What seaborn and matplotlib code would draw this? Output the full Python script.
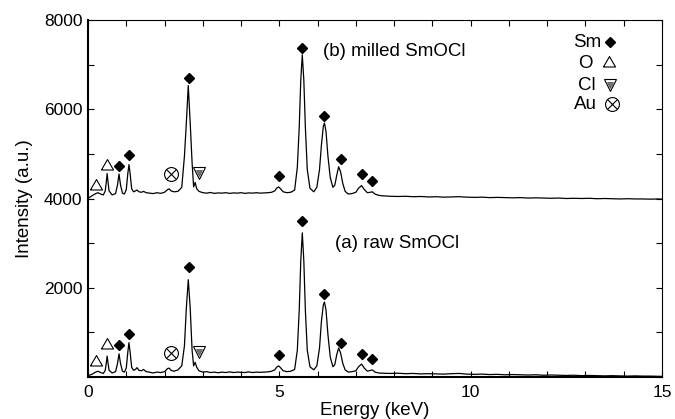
import numpy as np
import pandas as pd
import seaborn as sns
import matplotlib.pyplot as plt
from matplotlib.ticker import FixedLocator, MultipleLocator

# EDX spectra (energy in keV, intensity in a.u.)
energy_kev = [
    0.00, 0.10, 0.20, 0.26, 0.33, 0.40, 0.45, 0.48, 0.50, 0.52, 0.55, 0.63,
    0.72, 0.77, 0.81, 0.85, 0.90, 0.95, 1.00, 1.04, 1.07, 1.10, 1.14, 1.19,
    1.24, 1.28, 1.33, 1.40, 1.45, 1.52, 1.60, 1.70, 1.80, 1.90, 2.00, 2.08,
    2.12, 2.17, 2.25, 2.35, 2.45, 2.52, 2.57, 2.62, 2.67, 2.72, 2.76, 2.80,
    2.84, 2.90, 3.00, 3.10, 3.20, 3.30, 3.40, 3.50, 3.60, 3.70, 3.80, 3.90,
    4.00, 4.10, 4.20, 4.30, 4.40, 4.50, 4.60, 4.70, 4.80, 4.88, 4.93, 4.98,
    5.03, 5.10, 5.20, 5.30, 5.40, 5.47, 5.52, 5.56, 5.60, 5.64, 5.68, 5.73,
    5.80, 5.90, 5.98, 6.05, 6.10, 6.15, 6.18, 6.22, 6.27, 6.33, 6.40, 6.45,
    6.50, 6.55, 6.60, 6.66, 6.72, 6.80, 6.90, 7.00, 7.07, 7.15, 7.22, 7.30,
    7.38, 7.43, 7.50, 7.60, 7.70, 7.90, 8.10, 8.30, 8.50, 8.70, 8.90, 9.10,
    9.30, 9.50, 9.70, 9.90, 10.10, 10.30, 10.50, 10.70, 10.90, 11.10, 11.30,
    11.50, 11.70, 11.90, 12.10, 12.30, 12.50, 12.70, 12.90, 13.10, 13.30,
    13.50, 13.70, 13.90, 14.10, 14.30, 14.50, 14.70, 14.90, 15.00,
]
raw_counts = [
    30, 60, 110, 130, 100, 80, 150, 330, 470, 330, 150, 90,
    120, 300, 520, 300, 130, 110, 200, 560, 770, 560, 220, 150,
    170, 210, 150, 140, 170, 120, 110, 90, 110, 100, 120, 190,
    200, 150, 130, 160, 250, 700, 1550, 2180, 1550, 600, 250, 330,
    220, 140, 110, 120, 100, 110, 95, 110, 100, 115, 100, 110,
    105, 100, 115, 100, 110, 105, 110, 115, 130, 160, 220, 250,
    210, 140, 120, 130, 170, 600, 1500, 2600, 3230, 2600, 1500, 600,
    230, 160, 250, 650, 1250, 1620, 1680, 1500, 950, 450, 230, 280,
    500, 650, 540, 300, 160, 110, 120, 140, 230, 290, 200, 130,
    150, 160, 110, 90, 85, 80, 85, 75, 80, 70, 75, 70,
    65, 75, 80, 65, 60, 65, 55, 60, 50, 55, 50,
    45, 50, 40, 45, 40, 35, 40, 30, 35, 30,
    25, 30, 25, 20, 25, 20, 20, 15, 15,
]
milled_counts = [
    4000, 4060, 4110, 4130, 4100, 4080, 4170, 4390, 4560, 4390, 4170, 4080,
    4110, 4300, 4550, 4300, 4120, 4100, 4200, 4560, 4760, 4560, 4220, 4150,
    4170, 4190, 4150, 4140, 4160, 4130, 4120, 4110, 4130, 4115, 4140, 4200,
    4215, 4170, 4150, 4160, 4250, 4950, 5700, 6530, 5700, 4800, 4260, 4360,
    4220, 4160, 4130, 4120, 4135, 4115, 4125, 4120, 4130, 4115, 4125, 4120,
    4130, 4115, 4125, 4120, 4130, 4120, 4125, 4130, 4140, 4170, 4230, 4260,
    4220, 4150, 4130, 4140, 4190, 4700, 5600, 6650, 7220, 6650, 5600, 4650,
    4230, 4150, 4250, 4650, 5200, 5620, 5690, 5500, 4950, 4470, 4250, 4300,
    4520, 4710, 4600, 4330, 4160, 4100, 4110, 4140, 4230, 4290, 4200, 4130,
    4140, 4150, 4100, 4070, 4060, 4050, 4045, 4050, 4040, 4045, 4035, 4040,
    4030, 4035, 4040, 4030, 4025, 4030, 4020, 4025, 4020, 4015, 4020,
    4010, 4015, 4010, 4005, 4010, 4000, 4005, 4000, 4005, 3995,
    4000, 3995, 3990, 3995, 3990, 3990, 3985, 3990, 3985,
]

# peak markers
sm_energy = [0.82, 1.08, 2.63, 4.98, 5.60, 6.18, 6.60, 7.15, 7.43]
sm_raw_y = [720, 960, 2460, 490, 3500, 1860, 760, 520, 400]
sm_milled_y = [4730, 4980, 6700, 4500, 7380, 5850, 4890, 4550, 4400]
o_energy = [0.21, 0.50]
o_raw_y = [340, 720]
o_milled_y = [4280, 4730]
cl_energy = [2.89]
cl_raw_y = [570]
cl_milled_y = [4570]
au_energy = [2.17]
au_raw_y = [530]
au_milled_y = [4550]

sns.set_style("ticks")
plt.rcParams['font.family'] = ['Liberation Sans', 'DejaVu Sans']
for key in ['text.color', 'axes.labelcolor', 'xtick.color', 'ytick.color',
            'xtick.labelcolor', 'ytick.labelcolor']:
    plt.rcParams[key] = 'black'

df = pd.DataFrame({'energy': energy_kev, 'raw': raw_counts, 'milled': milled_counts})

fig, ax = plt.subplots(figsize=(6.75, 4.19), dpi=100)
fig.subplots_adjust(left=0.1304, right=0.9807, bottom=0.1002, top=0.9523)

sns.lineplot(data=df, x='energy', y='raw', color='black', lw=0.9, ax=ax)
sns.lineplot(data=df, x='energy', y='milled', color='black', lw=0.9, ax=ax)

tri_up = [(-1, -0.58), (1, -0.58), (0, 1.15), (-1, -0.58)]


def draw_markers(sm_x, sm_y, o_x, o_y, cl_x, cl_y, au_x, au_y):
    ax.plot(sm_x, sm_y, ls='none', marker='D', ms=4.8, color='black')
    ax.plot(o_x, o_y, ls='none', marker=tri_up, ms=10, mfc='white',
            mec='black', mew=0.8)
    ax.plot(cl_x, cl_y, ls='none', marker='v', ms=8, mfc='white',
            mec='black', mew=0.8)
    ax.plot(cl_x, cl_y, ls='none', marker='v', ms=4, mfc='0.45',
            mec='0.3', mew=0.5)
    ax.plot(au_x, au_y, ls='none', marker='o', ms=10, mfc='white',
            mec='black', mew=0.8)
    ax.plot(au_x, au_y, ls='none', marker='x', ms=7, mec='black', mew=0.8)


draw_markers(sm_energy, sm_raw_y, o_energy, o_raw_y,
             cl_energy, cl_raw_y, au_energy, au_raw_y)
draw_markers(sm_energy, sm_milled_y, o_energy, o_milled_y,
             cl_energy, cl_milled_y, au_energy, au_milled_y)

# element key in the upper right
draw_markers([13.64], [7506], [13.61], [7036], [13.64], [6543], [13.69], [6117])
for label, x, y in [('Sm', 12.67, 7506), ('O', 12.80, 7036),
                    ('Cl', 12.80, 6543), ('Au', 12.70, 6117)]:
    ax.text(x, y, label, fontsize=13.5, ha='left', va='center')

ax.text(6.14, 7305, '(b) milled SmOCl', fontsize=13.5, ha='left', va='center')
ax.text(6.45, 3002, '(a) raw SmOCl', fontsize=13.5, ha='left', va='center')

ax.set_xlim(0, 15)
ax.set_ylim(0, 8000)
ax.xaxis.set_major_locator(FixedLocator([0, 5, 10, 15]))
ax.xaxis.set_minor_locator(MultipleLocator(1))
ax.yaxis.set_major_locator(FixedLocator([2000, 4000, 6000, 8000]))
ax.yaxis.set_minor_locator(MultipleLocator(1000))
ax.tick_params(which='both', direction='in', top=True, right=True,
               length=4, width=0.8, color='black')
ax.tick_params(axis='x', labelsize=12.5, pad=6)
ax.tick_params(axis='y', labelsize=12.5, pad=4)

for side in ['left', 'bottom']:
    ax.spines[side].set_linewidth(1.5)
for side in ['top', 'right']:
    ax.spines[side].set_linewidth(0.8)
for sp in ax.spines.values():
    sp.set_color('black')
    sp.set_visible(True)

ax.set_xlabel('Energy (keV)', fontsize=13.5, labelpad=1)
ax.set_ylabel('Intensity (a.u.)', fontsize=13.5, labelpad=8)

fig.savefig('out.png', dpi=100)
